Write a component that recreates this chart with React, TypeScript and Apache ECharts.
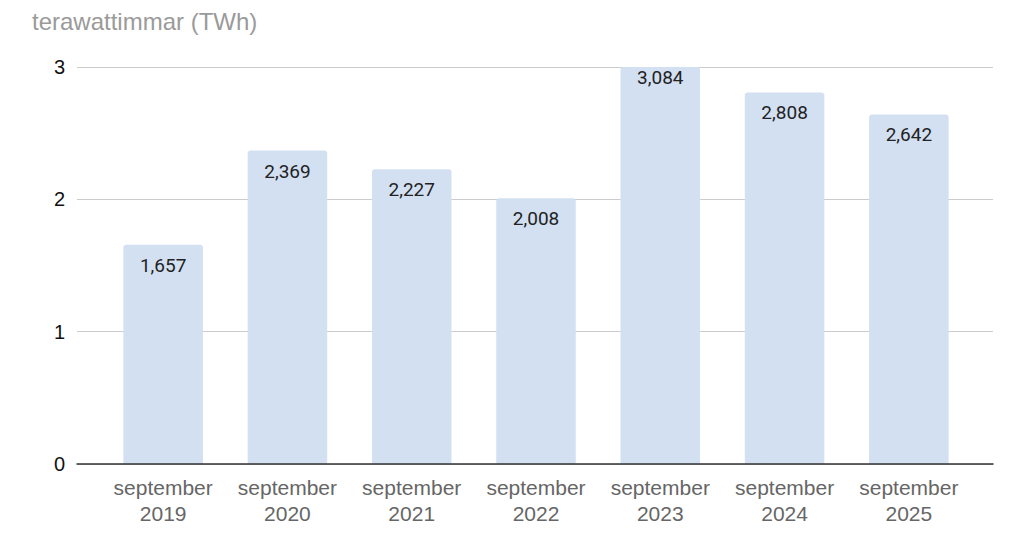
import React, { useEffect, useRef } from "react";
import * as echarts from "echarts";

const categories = [
  "september\n2019",
  "september\n2020",
  "september\n2021",
  "september\n2022",
  "september\n2023",
  "september\n2024",
  "september\n2025",
];
const values = [1.657, 2.369, 2.227, 2.008, 3.084, 2.808, 2.642];
const yMin = 0;
const yMax = 3;
const yInterval = 1;
const titleText = "terawattimmar (TWh)";

const fmt = (v: number) => v.toFixed(3).replace(".", ",");

export default function App() {
  const ref = useRef<HTMLDivElement>(null);
  useEffect(() => {
    if (!ref.current) return;
    const chart = echarts.init(ref.current, undefined, { renderer: "svg" });
    const sans = "Arial, 'Liberation Sans', sans-serif";
    chart.setOption({
      animation: false,
      backgroundColor: "#ffffff",
      title: {
        text: titleText,
        left: 27,
        top: 4,
        textStyle: { fontFamily: sans, fontSize: 24, fontWeight: "normal", color: "#9a9a9a" },
      },
      grid: [
        { left: 77, right: 31, top: 67, height: 397, containLabel: false },
        { left: 101, width: 870, top: 67, height: 397, containLabel: false },
      ],
      xAxis: [
        {
          gridIndex: 0,
          type: "value",
          min: 0,
          max: 1,
          axisLine: { show: true, onZero: false, lineStyle: { color: "#333333", width: 1.5 } },
          axisTick: { show: false },
          axisLabel: { show: false },
          splitLine: { show: false },
          z: 5,
        },
        {
          gridIndex: 1,
          type: "category",
          data: categories,
          axisLine: { show: false },
          axisTick: { show: false },
          axisLabel: {
            fontFamily: sans,
            fontSize: 21,
            color: "#666666",
            lineHeight: 26,
            margin: 10,
            interval: 0,
          },
        },
      ],
      yAxis: [
        {
          gridIndex: 0,
          type: "value",
          min: yMin,
          max: yMax,
          interval: yInterval,
          axisLine: { show: false },
          axisTick: { show: false },
          axisLabel: { fontFamily: sans, fontSize: 20, color: "#111111", margin: 12 },
          splitLine: { lineStyle: { color: "#cccccc", width: 1.2 } },
        },
        {
          gridIndex: 1,
          type: "value",
          min: yMin,
          max: yMax,
          interval: yInterval,
          show: false,
          splitLine: { show: false },
        },
      ],
      series: [
        {
          type: "bar",
          xAxisIndex: 1,
          yAxisIndex: 1,
          data: values.map((v) =>
            v > yMax ? { value: v, label: { distance: 1 } } : { value: v }
          ),
          barWidth: "64%",
          clip: true,
          itemStyle: { color: "#d3e0f2", borderRadius: [3, 3, 0, 0] },
          label: {
            show: true,
            position: "insideTop",
            distance: 11,
            fontFamily: "Roboto, sans-serif",
            fontSize: 19,
            color: "#222222",
            formatter: (p: any) => fmt(p.value),
          },
        },
      ],
    });
    return () => chart.dispose();
  }, []);
  return (
    <div
      ref={ref}
      style={{ position: "fixed", left: 0, top: 0, width: 1024, height: 554 }}
    />
  );
}
